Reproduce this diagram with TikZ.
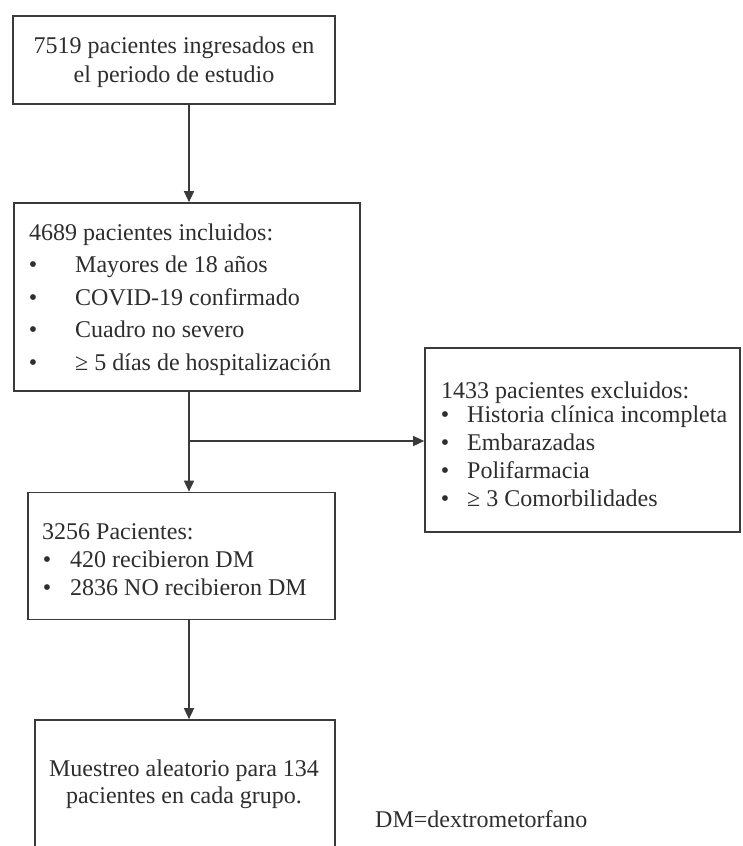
\documentclass[tikz,border=0pt]{standalone}
\usepackage{fontspec}
\setmainfont{Liberation Serif}
\usetikzlibrary{arrows.meta}
\definecolor{linegray}{HTML}{3A3A3A}
\definecolor{textgray}{HTML}{2E2E2E}
\begin{document}
\begin{tikzpicture}[x=1pt,y=-1pt,
  box/.style={draw=linegray, line width=1.7pt, inner sep=0pt, fill=white},
  txt/.style={inner sep=0pt, text=textgray, font=\fontsize{24}{29}\selectfont},
  lbl/.style={txt, anchor=base west},
  dot/.style={txt, anchor=base},
  link/.style={draw=linegray, line width=1.6pt},
  flow/.style={link, -{Triangle[length=11pt,width=10pt]}},
]
\useasboundingbox (0,0) rectangle (742,846);

% boxes
\node[box, minimum width=322pt, minimum height=88pt]  (b1) at (174,60) {};
\node[box, minimum width=346pt, minimum height=188pt] (b2) at (187,297) {};
\node[box, minimum width=315pt, minimum height=184pt] (b3) at (582.5,440) {};
\node[box, minimum width=307pt, minimum height=127pt] (b4) at (181.5,556) {};
\node[box, minimum width=300pt, minimum height=150pt] (b5) at (185,795) {};

% junction on the main spine
\coordinate (junc) at (189,441);

% connectors
\draw[flow] (b1.south -| junc) -- (b2.north -| junc);
\draw[link] (b2.south -| junc) -- (junc);
\draw[flow] (junc) -- (b4.north -| junc);
\draw[flow] (junc) -- (b3.west |- junc);
\draw[flow] (b4.south -| junc) -- (b5.north -| junc);

% box 1
\node[txt, align=center] (t1) at (174,62) {7519 pacientes ingresados en\\el periodo de estudio};

% box 2
\node[lbl] (t2h) at (29,240) {4689 pacientes incluidos:};
\node[dot] (t2d1) at (33,272.5) {•};
\node[lbl] (t2a) at (75,272.5) {Mayores de 18 años};
\node[dot] (t2d2) at (33,305) {•};
\node[lbl] (t2b) at (75,305) {COVID-19 confirmado};
\node[dot] (t2d3) at (33,337.5) {•};
\node[lbl] (t2c) at (75,337.5) {Cuadro no severo};
\node[dot] (t2d4) at (33,370) {•};
\node[lbl] (t2e) at (75,370) {≥ 5 días de hospitalización};

% box 3
\node[lbl] (t3h) at (441,398) {1433 pacientes excluidos:};
\node[dot] (t3d1) at (445,422) {•};
\node[lbl] (t3a) at (467,422) {Historia clínica incompleta};
\node[dot] (t3d2) at (445,450) {•};
\node[lbl] (t3b) at (467,450) {Embarazadas};
\node[dot] (t3d3) at (445,478) {•};
\node[lbl] (t3c) at (467,478) {Polifarmacia};
\node[dot] (t3d4) at (445,506) {•};
\node[lbl] (t3e) at (467,506) {≥ 3 Comorbilidades};

% box 4
\node[lbl] (t4h) at (42,539) {3256 Pacientes:};
\node[dot] (t4d1) at (47,567) {•};
\node[lbl] (t4a) at (70,567) {420 recibieron DM};
\node[dot] (t4d2) at (47,595) {•};
\node[lbl] (t4b) at (70,595) {2836 NO recibieron DM};

% box 5
\node[txt, align=center, font=\fontsize{24}{27}\selectfont] (t5) at (184,784) {Muestreo aleatorio para 134\\pacientes en cada grupo.};

% abbreviation note
\node[lbl] (note) at (375,827) {DM=dextrometorfano};
\end{tikzpicture}
\end{document}
